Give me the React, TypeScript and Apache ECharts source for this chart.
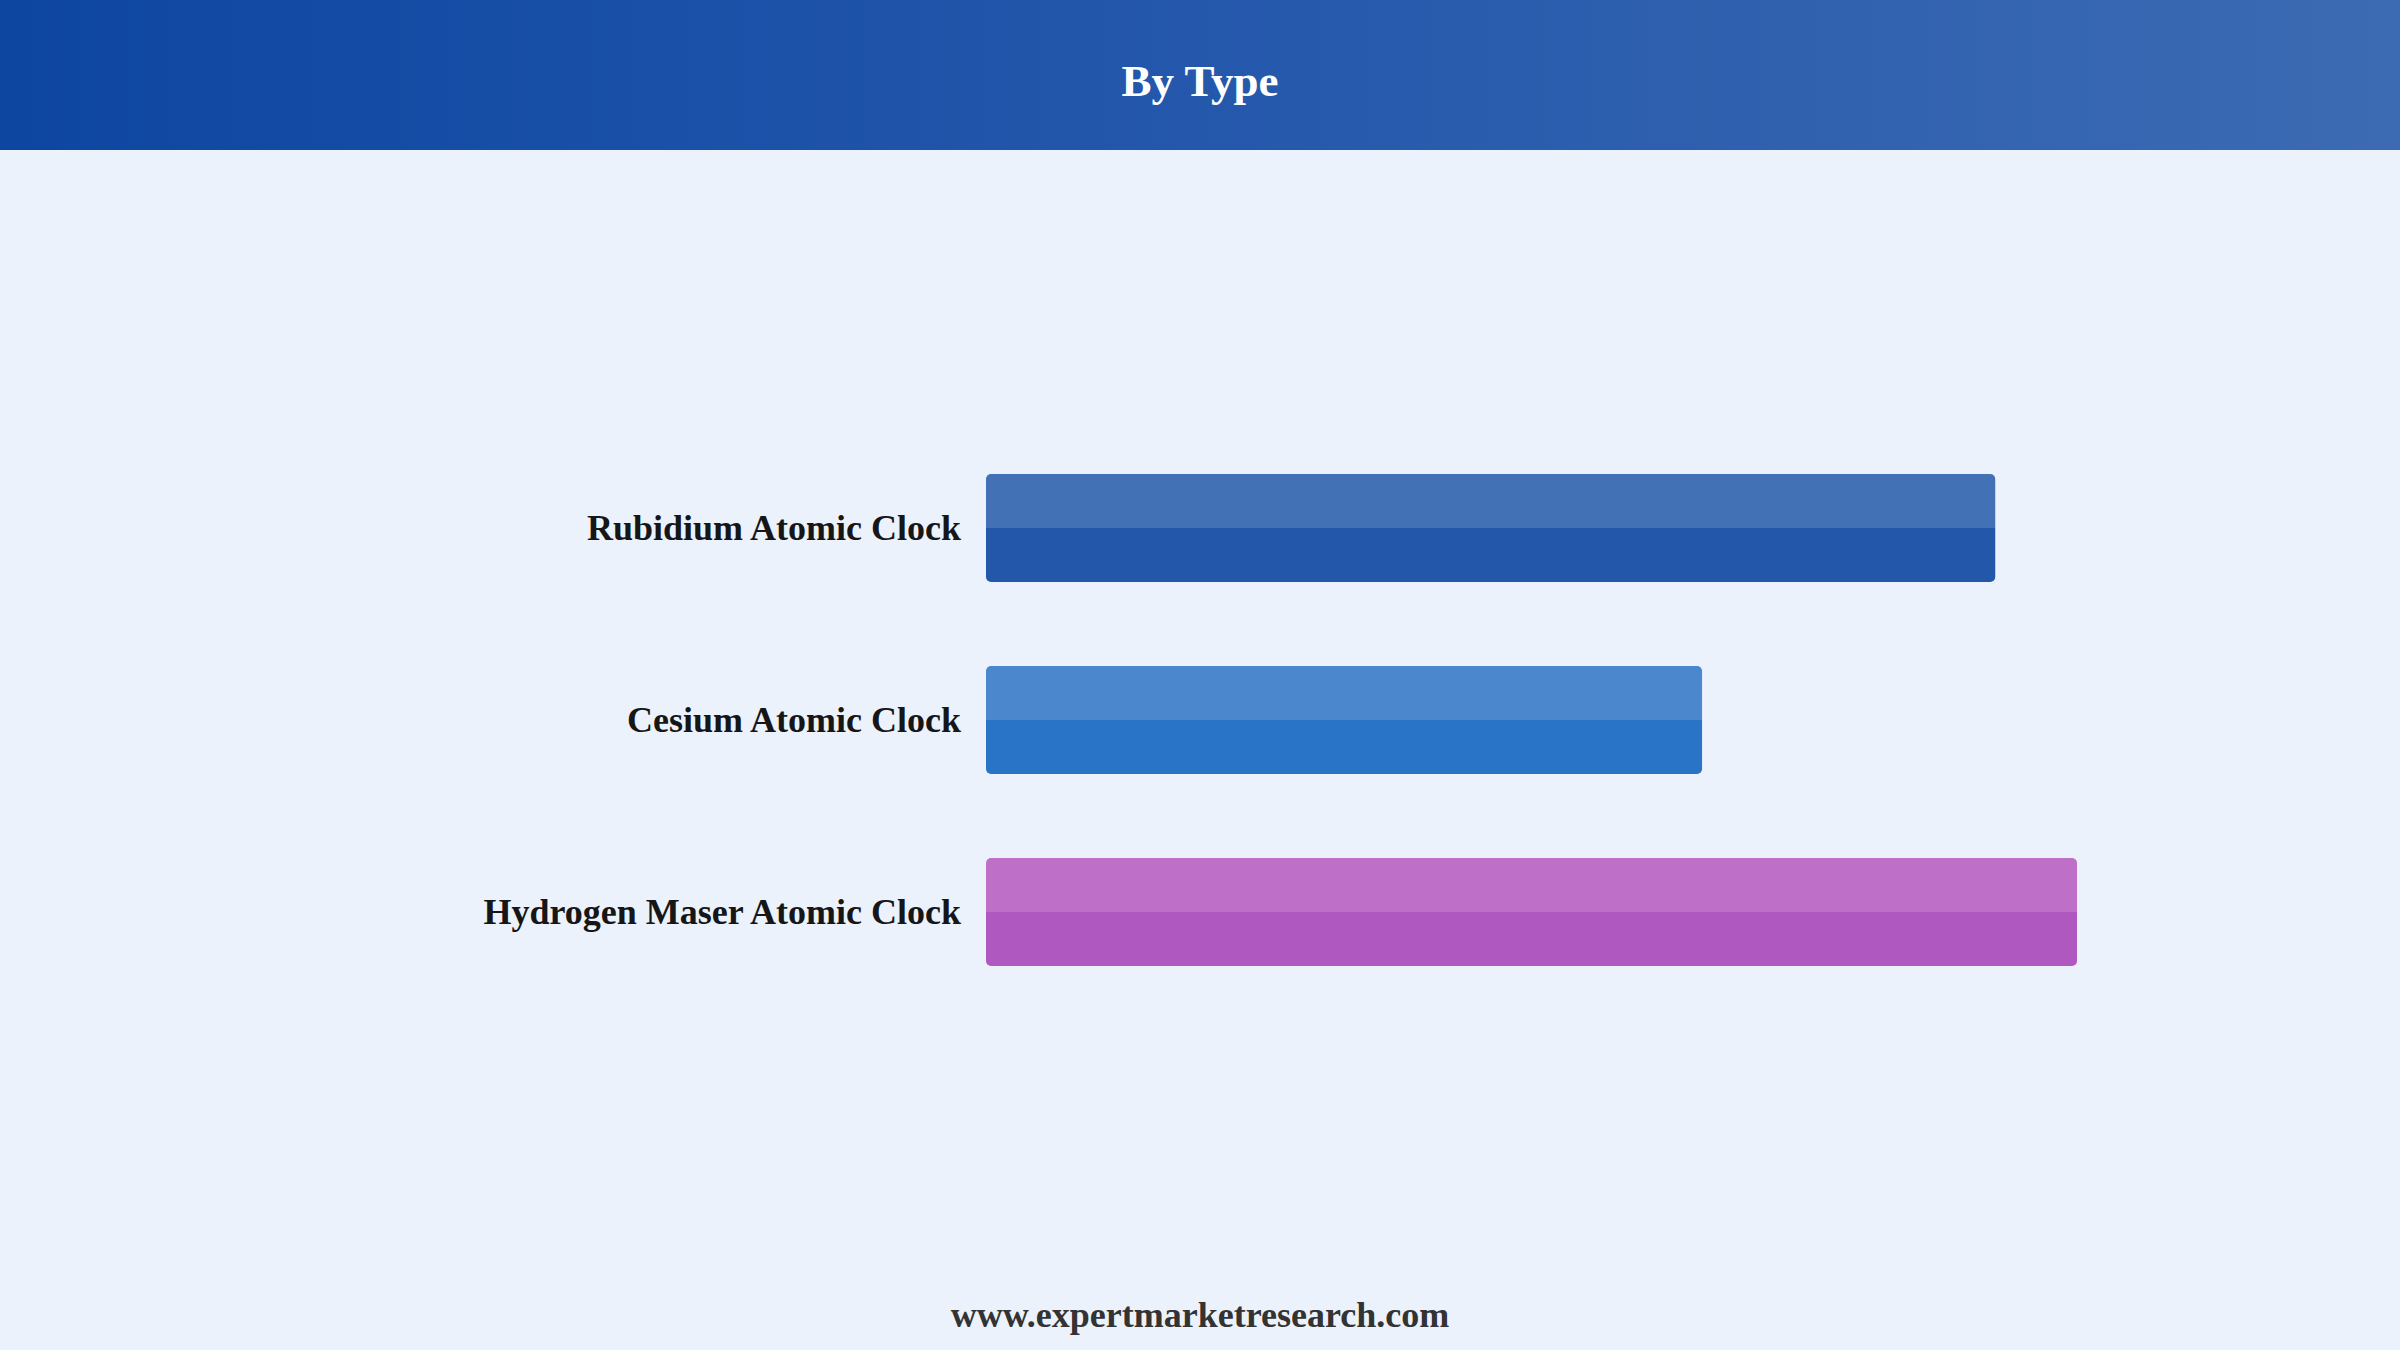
import React, { useEffect, useRef } from "react";
import * as echarts from "echarts";

const categories = ["Rubidium Atomic Clock", "Cesium Atomic Clock", "Hydrogen Maser Atomic Clock"];
const values = [35.8, 25.4, 38.7];
const lightColors = ["#4271B5", "#4B87CD", "#BE70C9"];
const darkColors = ["#2357AA", "#2974C6", "#AF58C0"];
const titleText = "By Type";
const footerText = "www.expertmarketresearch.com";

const FONT = "'Liberation Serif', 'Times New Roman', serif";

export default function App() {
  const ref = useRef<HTMLDivElement>(null);
  useEffect(() => {
    document.body.style.margin = "0";
    const chart = echarts.init(ref.current!, null, { renderer: "svg" });
    const twoTone = (i: number) => ({
      type: "linear",
      x: 0, y: 0, x2: 0, y2: 1,
      colorStops: [
        { offset: 0, color: lightColors[i] },
        { offset: 0.5, color: lightColors[i] },
        { offset: 0.5, color: darkColors[i] },
        { offset: 1, color: darkColors[i] },
      ],
    });
    chart.setOption({
      animation: false,
      backgroundColor: "#EBF2FC",
      grid: { left: 986, right: 323, top: 432, bottom: 342, containLabel: false },
      xAxis: {
        type: "value",
        min: 0,
        max: values[2],
        show: false,
      },
      yAxis: {
        type: "category",
        data: categories,
        inverse: true,
        axisLine: { show: false },
        axisTick: { show: false },
        splitLine: { show: false },
        axisLabel: {
          margin: 25,
          fontFamily: FONT,
          fontWeight: "bold",
          fontSize: 36,
          color: "#161616",
        },
      },
      series: [
        {
          type: "bar",
          barWidth: 108,
          data: values.map((v, i) => ({
            value: v,
            itemStyle: { color: twoTone(i), borderRadius: 5 },
          })),
        },
      ],
      graphic: [
        {
          type: "rect",
          left: 0,
          top: 0,
          shape: { x: 0, y: 0, width: 2400, height: 150 },
          style: {
            fill: {
              type: "linear",
              x: 0, y: 0, x2: 1, y2: 0,
              colorStops: [
                { offset: 0, color: "#0D46A1" },
                { offset: 0.45, color: "#2256AB" },
                { offset: 1, color: "#3C6BB3" },
              ],
            },
          },
          silent: true,
          z: 0,
        },
        {
          type: "text",
          x: 1200,
          y: 81,
          style: {
            text: titleText,
            fill: "#FFFFFF",
            font: `bold 45px ${FONT}`,
            textAlign: "center",
            textVerticalAlign: "middle",
          },
          z: 10,
        },
        {
          type: "text",
          x: 1200,
          y: 1315,
          style: {
            text: footerText,
            fill: "#333333",
            font: `bold 36px ${FONT}`,
            textAlign: "center",
            textVerticalAlign: "middle",
          },
          z: 10,
        },
      ],
    });
    return () => chart.dispose();
  }, []);
  return (
    <div
      ref={ref}
      style={{ position: "absolute", left: 0, top: 0, width: 2400, height: 1350 }}
    />
  );
}
